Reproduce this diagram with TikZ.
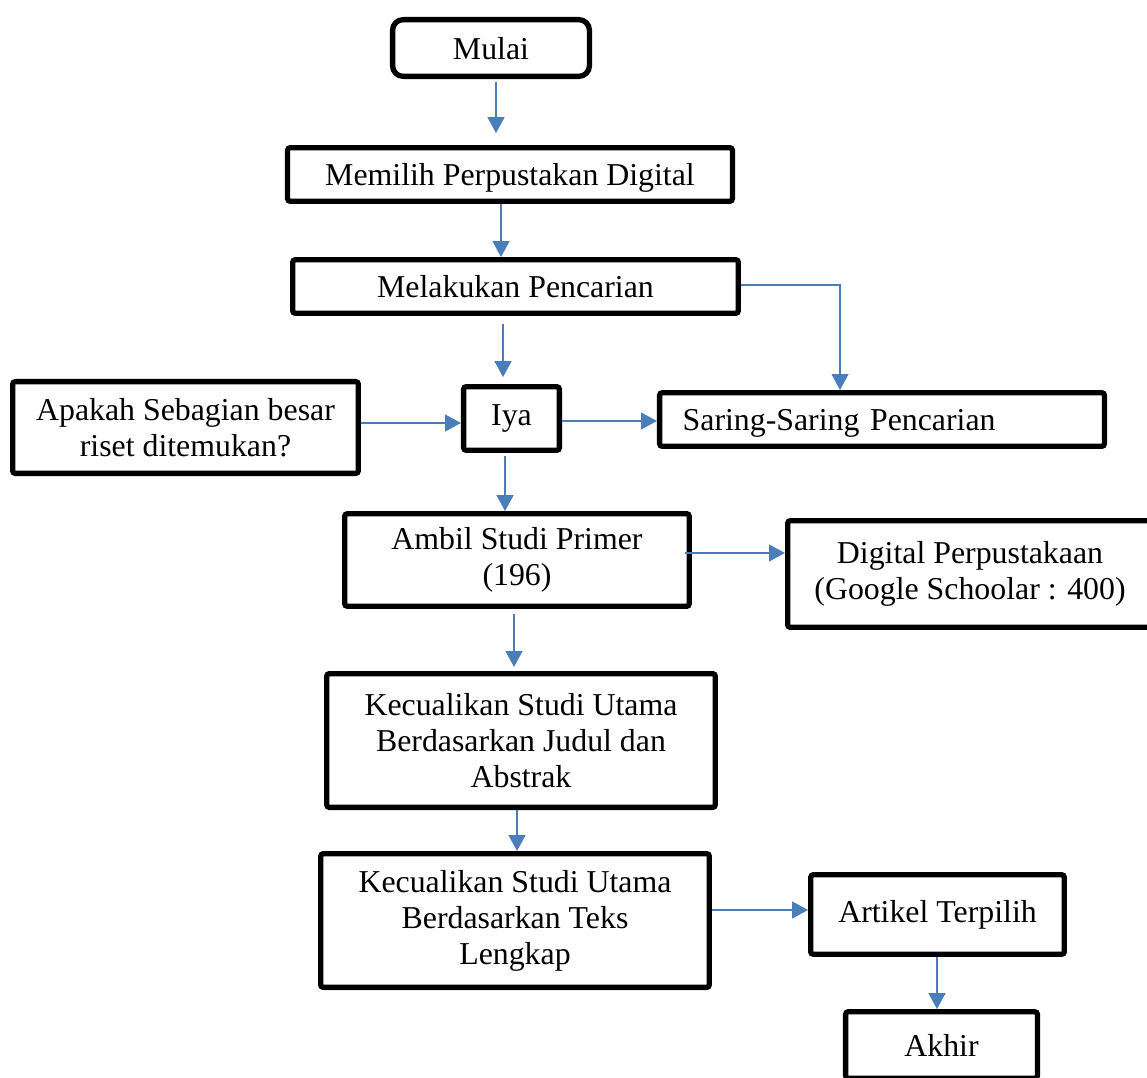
\documentclass[tikz,border=0pt]{standalone}
\usepackage{fontspec}
\setmainfont{Liberation Serif}
\usepackage{tikz}
\usetikzlibrary{arrows.meta}
\definecolor{lineblue}{RGB}{74,126,187}

\begin{document}
\begin{tikzpicture}[%
        x=0.377pt, y=-0.377pt,
        font=\fontsize{12}{13.6}\selectfont,
        block/.style={rectangle, draw=black, line width=2pt, rounded corners=1pt, align=center, inner sep=0pt},
        lowtext/.style={text depth=0pt},
        startbox/.style={block, lowtext, rounded corners=4pt},
        arr/.style={-{Triangle[width=6.3pt,length=6pt]}, draw=lineblue, line width=0.8pt}]
        \useasboundingbox (0,0) rectangle (1147,1077);
        % Nodes
        \node [startbox, minimum width=74.2pt, minimum height=21.4pt] (mulai) at (491,48) {Mulai};
        \node [block, lowtext, minimum width=167.7pt, minimum height=20.2pt] (memilih) at (510,174.5) {Memilih Perpustakan Digital};
        \node [block, lowtext, minimum width=168pt, minimum height=20.2pt] (melakukan) at (515.5,286.5) {Melakukan Pencarian};
        \node [block, minimum width=130.3pt, minimum height=34.6pt] (apakah) at (185.5,427.5) {Apakah Sebagian besar\\riset ditemukan?};
        \node [block, minimum width=36.1pt, minimum height=24pt] (iya) at (511.5,418.5) {Iya};
        \node [block, lowtext, align=left, text width=150.3pt, inner xsep=8.7pt, minimum height=20.2pt] (saring) at (882,419.5) {Saring-Saring Pencarian};
        \node [block, minimum width=129.9pt, minimum height=34.9pt] (ambil) at (517,560) {Ambil Studi Primer\\(196)};
        \node [block, minimum width=137.5pt, minimum height=40.2pt] (digital) at (970,574) {Digital Perpustakaan\\(Google Schoolar : 400)};
        \node [block, minimum width=146.5pt, minimum height=50.4pt] (judul) at (521,740.5) {Kecualikan Studi Utama\\Berdasarkan Judul dan\\Abstrak};
        \node [block, minimum width=146.5pt, minimum height=50.4pt] (teks) at (515,920.5) {Kecualikan Studi Utama\\Berdasarkan Teks\\Lengkap};
        \node [block, minimum width=95.6pt, minimum height=30pt] (artikel) at (937.5,914.5) {Artikel Terpilih};
        \node [block, minimum width=72.3pt, minimum height=25.1pt] (akhir) at (941.5,1045) {Akhir};

        % Edges
        \draw[arr, shorten <=1pt, shorten >=4.5pt] (mulai.south -| 496,0) -- (memilih.north -| 496,0);
        \draw[arr] (memilih.south -| 501,0) -- (melakukan.north -| 501,0);
        \draw[arr, line width=0.6pt] (melakukan.east |- 0,285) -| (saring.north -| 840,0);
        \draw[arr, shorten <=3pt, shorten >=2.6pt] (melakukan.south -| 503,0) -- (iya.north -| 503,0);
        \draw[arr] (apakah.east |- 0,423) -- (iya.west |- 0,423);
        \draw[arr] (iya.east |- 0,421) -- (saring.west |- 0,421);
        \draw[arr, shorten <=1pt] (iya.south -| 505,0) -- (ambil.north -| 505,0);
        \draw[arr, shorten <=-2.6pt] (ambil.east |- 0,553) -- (digital.west |- 0,553);
        \draw[arr, shorten <=2pt, shorten >=1.5pt] (ambil.south -| 514,0) -- (judul.north -| 514,0);
        \draw[arr] (judul.south -| 517,0) -- (teks.north -| 517,0);
        \draw[arr] (teks.east |- 0,910) -- (artikel.west |- 0,910);
        \draw[arr] (artikel.south -| 937,0) -- (akhir.north -| 937,0);
\end{tikzpicture}
\end{document}
